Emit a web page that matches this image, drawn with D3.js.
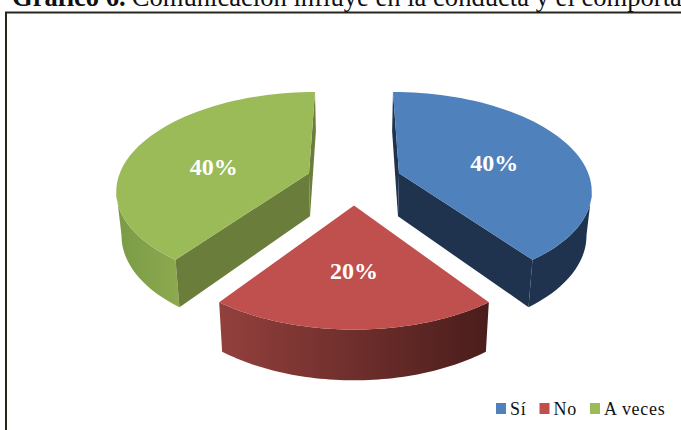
<!DOCTYPE html>
<html>
<head>
<meta charset="utf-8">
<script src="https://cdn.jsdelivr.net/npm/d3@7"></script>
<style>
  html, body { margin: 0; padding: 0; background: #fff; overflow: hidden; }
  svg { display: block; font-family: "Liberation Serif", serif; }
</style>
</head>
<body>
<svg id="chart" width="681" height="430"></svg>
<script>
// values
const categories = ['Sí', 'No', 'A veces'];
const values = [40, 20, 40];
const valueLabels = ['40%', '20%', '40%'];
const titleBold = 'Gráfico 6.';
const titleRest = 'Comunicación influye en la conducta y el comportamiento';

const topColors = ['#4f81bd', '#c0504d', '#9bbb59'];
const cutColors = ['#1f334f', '#7b3533', '#6a7d3a'];
const rimColors = [['#1f334f', '#1f334f'], ['#93403d', '#4a1d1b'], ['#7a9a46', '#8ca94f']];
const labelNudge = [5, 2, 9];

const svg = d3.select('#chart');
const defs = svg.append('defs');

// perspective of the tilted pie
const cx = 354, cy = 180.5, rx = 191.5, ry = 96, depth = 43.5;
const persp = 0.156, shrink = 0.022, explode = 0.25;

function project(X, Y, Z) {
  const s = 1 / (1 - persp * Y);
  const f = 1 - shrink * Z;
  return [cx + rx * X * s * f, cy + ry * Y * s * f + depth * Z * s];
}

const slices = d3.pie().sort(null).value(d => d)(values);
const line = d3.line();

slices.forEach((d, i) => {
  const mid = (d.startAngle + d.endAngle) / 2;
  const ox = Math.sin(mid) * explode, oy = -Math.cos(mid) * explode;
  const at = (a, r, z) => project(ox + Math.sin(a) * r, oy - Math.cos(a) * r, z);

  const angles = d3.range(0, 61).map(k => d.startAngle + (d.endAngle - d.startAngle) * k / 60);
  const topArc = angles.map(a => at(a, 1, 0));
  // only the part of the rim that faces the viewer, perspective moves the silhouette forward
  const front = angles.filter(a => Math.cos(a) < -0.15);
  const rimTop = front.map(a => at(a, 1, 0));
  const rimBot = front.map(a => at(a, 1, 1));
  const g = svg.append('g').attr('class', 'slice');

  const xs = d3.extent(rimTop, p => p[0]);
  const grad = defs.append('linearGradient')
    .attr('id', 'rim' + i)
    .attr('gradientUnits', 'userSpaceOnUse')
    .attr('x1', xs[0]).attr('x2', xs[1]).attr('y1', 0).attr('y2', 0);
  grad.append('stop').attr('offset', 0).attr('stop-color', rimColors[i][0]);
  grad.append('stop').attr('offset', 1).attr('stop-color', rimColors[i][1]);
  g.append('path')
    .attr('d', line(rimTop.concat(rimBot.slice().reverse())) + 'Z')
    .attr('fill', `url(#rim${i})`);

  // cut faces, skip the ones turned away
  const faces = [];
  if (-Math.sin(d.startAngle) > -0.01) faces.push(d.startAngle);
  if (Math.sin(d.endAngle) > -0.01) faces.push(d.endAngle);
  faces.forEach(a => {
    g.append('path')
      .attr('d', line([at(a, 0, 0), at(a, 1, 0), at(a, 1, 1), at(a, 0, 1)]) + 'Z')
      .attr('fill', cutColors[i]);
  });

  // top
  g.append('path')
    .attr('d', line([at(0, 0, 0)].concat(topArc)) + 'Z')
    .attr('fill', topColors[i]);

  const p = at(mid, 0.55, 0);
  svg.append('text')
    .attr('x', p[0]).attr('y', p[1] + labelNudge[i])
    .attr('dy', '0.35em')
    .attr('text-anchor', 'middle')
    .attr('font-size', 24)
    .attr('font-weight', 'bold')
    .attr('fill', '#fff')
    .text(valueLabels[i]);
});

// frame, runs off the right and bottom of the page
svg.append('path')
  .attr('d', 'M6,430V12.5H681')
  .attr('fill', 'none')
  .attr('stroke', '#26261c')
  .attr('stroke-width', 2);

// title, cut off by the page like the scan
const title = svg.append('text').attr('x', 12).attr('y', 6).attr('font-size', 26.6).attr('fill', '#111');
title.append('tspan').attr('font-weight', 'bold').text(titleBold);
title.append('tspan').attr('dx', 6).text(titleRest);

// legend
const legendX = d3.scaleOrdinal().domain(categories).range([496, 539.5, 590]);
const color = d3.scaleOrdinal().domain(categories).range(topColors);
const legend = svg.append('g').selectAll('g').data(categories).enter().append('g')
  .attr('transform', d => `translate(${legendX(d)},403)`);
legend.append('rect').attr('width', 10).attr('height', 11).attr('fill', d => color(d));
legend.append('text')
  .attr('x', 14).attr('y', 12)
  .attr('font-size', 18)
  .attr('letter-spacing', 0.7)
  .attr('fill', '#111')
  .text(d => d);
</script>
</body>
</html>
